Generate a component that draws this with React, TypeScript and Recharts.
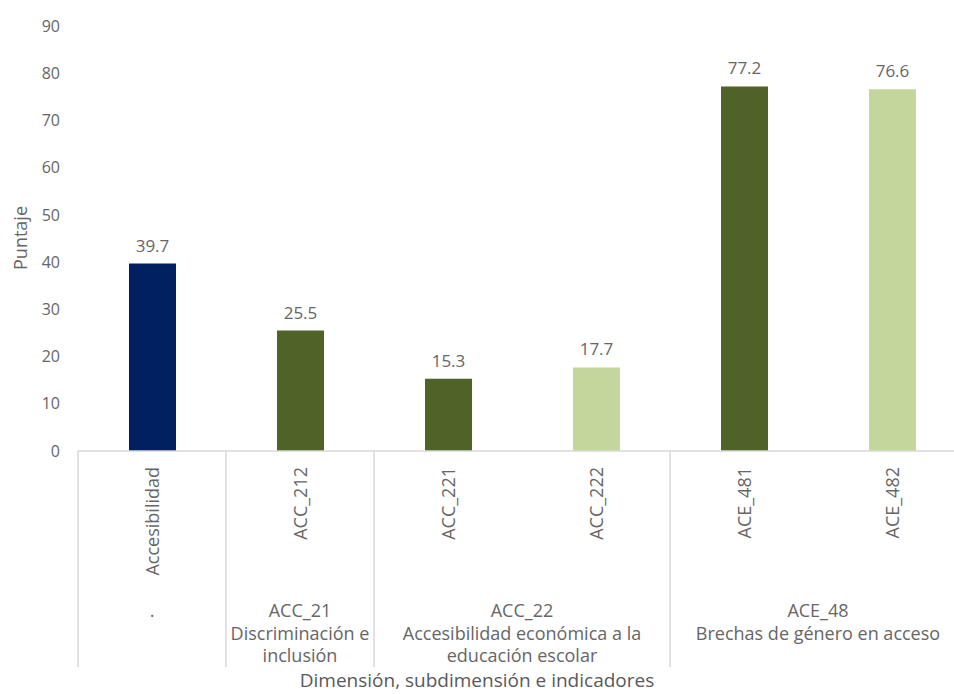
import React from 'react';
import { BarChart, Bar, XAxis, YAxis, Cell, LabelList, Label } from 'recharts';

const categories = ['Accesibilidad', 'ACC_212', 'ACC_221', 'ACC_222', 'ACE_481', 'ACE_482'];
const scores = [39.7, 25.5, 15.3, 17.7, 77.2, 76.6];
const barColors = ['#002060', '#4F6228', '#4F6228', '#C3D69B', '#4F6228', '#C3D69B'];

// groups along the x axis: how many indicators each one holds, and its label lines
const groupSizes = [1, 1, 2, 2];
const groupLabels = [
  ['.'],
  ['ACC_21', 'Discriminación e', 'inclusión'],
  ['ACC_22', 'Accesibilidad económica a la', 'educación escolar'],
  ['ACE_48', 'Brechas de género en acceso'],
];
const yTicks = [0, 10, 20, 30, 40, 50, 60, 70, 80, 90];

const data = categories.map((name, i) => ({ name, score: scores[i] }));

const groupStarts: number[] = [];
groupSizes.reduce((acc, n) => {
  groupStarts.push(acc);
  return acc + n;
}, 0);

const WIDTH = 966;
const HEIGHT = 694;
const Y_AXIS_W = 78;
const BAND = (WIDTH - Y_AXIS_W) / categories.length;
const FONT = '"Open Sans", "Noto Sans", sans-serif';
const TEXT = '#666666';
const LINE = '#d9d9d9';

function CategoryTick(props: any) {
  const { x, y, payload, index } = props;
  const half = payload?.offset > 0 ? payload.offset : BAND / 2;
  const cx = payload?.coordinate ?? x;
  const g = groupStarts.indexOf(index);
  let group = null;
  if (g >= 0) {
    const left = cx - half;
    const mid = left + groupSizes[g] * half;
    group = (
      <g>
        <line x1={left} y1={y} x2={left} y2={y + 216} stroke={LINE} strokeWidth={1.5} />
        {groupLabels[g].map((t, k) => (
          <text
            key={k}
            x={mid}
            y={y + 159 + k * 22.5}
            textAnchor="middle"
            dominantBaseline="central"
            fill={TEXT}
            fontSize={18}
            fontFamily={FONT}
          >
            {t}
          </text>
        ))}
      </g>
    );
  }
  return (
    <g>
      {group}
      <text
        x={cx}
        y={y + 16}
        transform={`rotate(-90 ${cx} ${y + 16})`}
        textAnchor="end"
        dominantBaseline="central"
        fill={TEXT}
        fontSize={18}
        fontFamily={FONT}
      >
        {payload.value}
      </text>
    </g>
  );
}

export default function App() {
  return (
    <div
      style={{
        position: 'fixed',
        left: 0,
        top: 0,
        width: 954,
        height: 694,
        overflow: 'hidden',
        background: '#fff',
      }}
    >
      <BarChart
        width={WIDTH}
        height={HEIGHT}
        data={data}
        margin={{ top: 26, right: 0, bottom: 0, left: 0 }}
        barCategoryGap={0}
      >
        <XAxis
          dataKey="name"
          interval={0}
          height={HEIGHT - 451}
          tickLine={false}
          tickSize={0}
          tickMargin={0}
          axisLine={{ stroke: LINE, strokeWidth: 1.5 }}
          tick={<CategoryTick />}
        >
          <Label
            content={() => (
              <text
                x={477}
                y={680}
                textAnchor="middle"
                dominantBaseline="central"
                fill="#595959"
                fontSize={19}
                fontFamily={FONT}
              >
                Dimensión, subdimensión e indicadores
              </text>
            )}
          />
        </XAxis>
        <YAxis
          width={Y_AXIS_W}
          domain={[0, 90]}
          ticks={yTicks}
          interval={0}
          axisLine={false}
          tickLine={false}
          tickSize={0}
          tickMargin={18}
          tick={{ fill: TEXT, fontSize: 16, fontFamily: FONT }}
        >
          <Label
            content={() => (
              <text
                x={20}
                y={238}
                transform="rotate(-90 20 238)"
                textAnchor="middle"
                dominantBaseline="central"
                fill={TEXT}
                fontSize={18}
                fontFamily={FONT}
              >
                Puntaje
              </text>
            )}
          />
        </YAxis>
        <Bar dataKey="score" barSize={47} isAnimationActive={false}>
          {data.map((d, i) => (
            <Cell key={d.name} fill={barColors[i]} />
          ))}
          <LabelList
            dataKey="score"
            position="top"
            offset={12}
            formatter={(v: any) => Number(v).toFixed(1)}
            fill={TEXT}
            fontSize={17}
            fontFamily={FONT}
          />
        </Bar>
      </BarChart>
    </div>
  );
}
